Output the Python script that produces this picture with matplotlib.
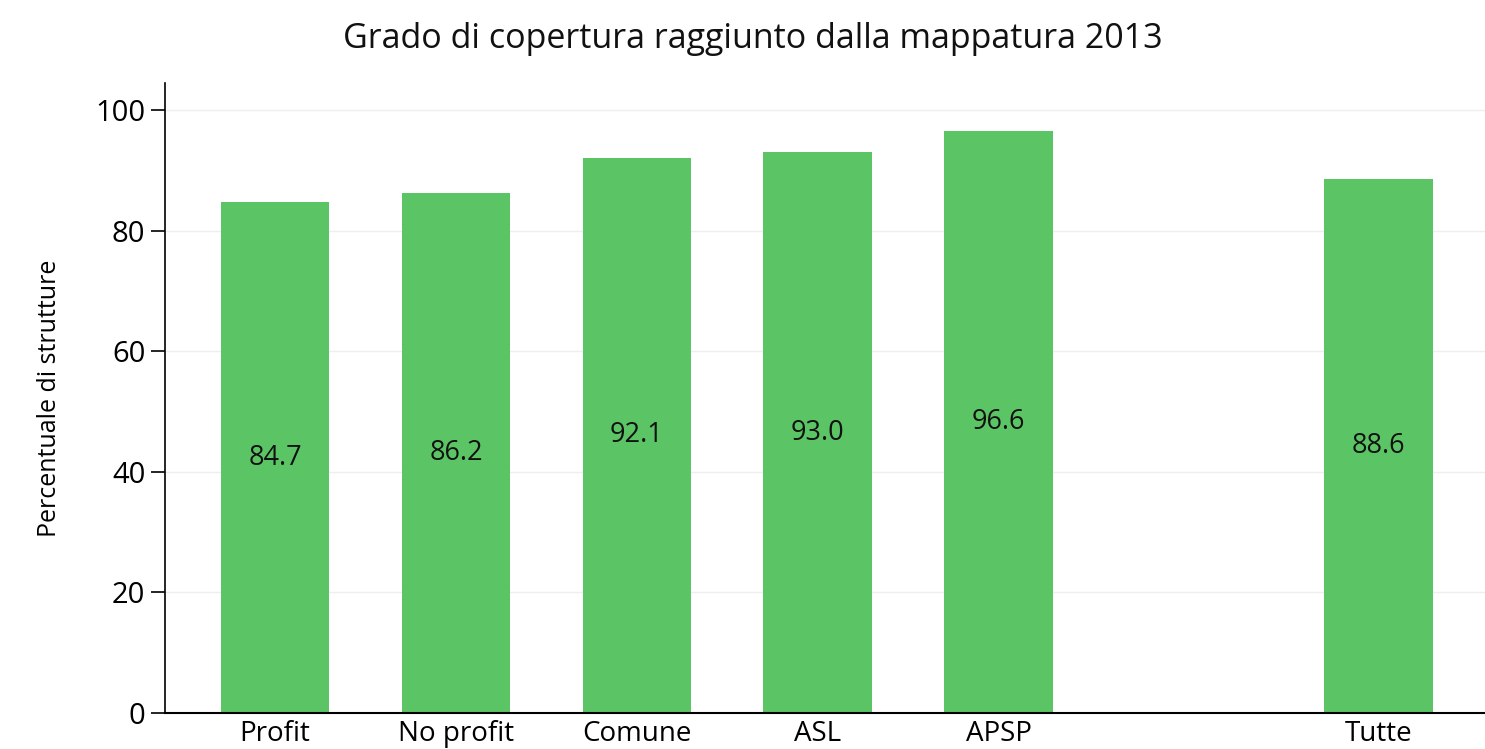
import matplotlib
matplotlib.use("Agg")
import matplotlib.pyplot as plt

categories = ["Profit", "No profit", "Comune", "ASL", "APSP", "Tutte"]
positions = [0, 1, 2, 3, 4, 6.1]
values = [84.7, 86.2, 92.1, 93.0, 96.6, 88.6]
yticks = [0, 20, 40, 60, 80, 100]

plt.rcParams['font.family'] = ['Open Sans', 'DejaVu Sans']

fig = plt.figure(figsize=(14.85, 7.49), dpi=100)
ax = fig.add_axes([0.111, 0.048, 0.889, 0.841])

ax.bar(positions, values, width=0.6, color='#5BC566', zorder=2)
for x, v in zip(positions, values):
    ax.text(x, v / 2, f"{v:.1f}", ha='center', va='center', fontsize=19.5, color='#111111', zorder=3)

ax.set_xlim(-0.61, 6.69)
ax.set_ylim(0, 104.5)
ax.set_yticks(yticks)
ax.set_xticks(positions)
ax.set_xticklabels(categories, fontsize=20)
ax.tick_params(axis='y', labelsize=21, length=10, width=1.2, pad=4)
ax.tick_params(axis='x', length=0, pad=5)
ax.yaxis.grid(True, color='#eeeeee', linewidth=1, zorder=0)
ax.spines['top'].set_visible(False)
ax.spines['right'].set_visible(False)
ax.spines['left'].set_linewidth(1.2)
ax.spines['bottom'].set_linewidth(1.5)
ax.set_ylabel("Percentuale di strutture", fontsize=18, labelpad=24)

fig.text(0.507, 0.948, "Grado di copertura raggiunto dalla mappatura 2013", ha='center', va='center', fontsize=24.5, color='#111111')

fig.savefig("out.png", dpi=100)
